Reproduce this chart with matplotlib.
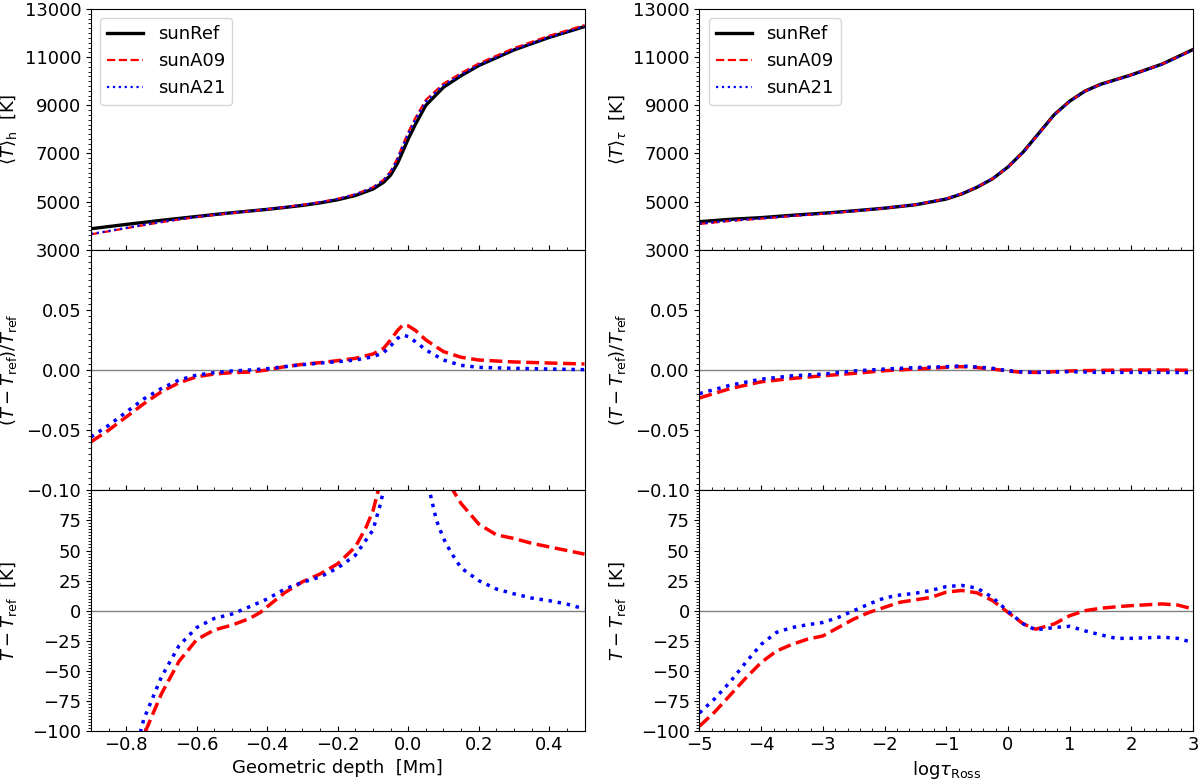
import numpy as np
import matplotlib
matplotlib.use("Agg")
import matplotlib.pyplot as plt
from matplotlib.ticker import AutoMinorLocator

plt.rcParams['font.size'] = 13

# ---- geometric depth panels (left column) ----
depth = [-0.9, -0.85, -0.8, -0.75, -0.7, -0.65, -0.6, -0.55, -0.5, -0.45,
         -0.4, -0.35, -0.3, -0.25, -0.2, -0.15, -0.1, -0.07, -0.05, -0.03,
         -0.015, 0.0, 0.02, 0.05, 0.1, 0.15, 0.2, 0.3, 0.4, 0.5]
Th_ref = [3870, 3960, 4050, 4135, 4220, 4300, 4380, 4460, 4535, 4605,
          4675, 4755, 4840, 4945, 5075, 5250, 5520, 5800, 6100, 6600,
          7100, 7600, 8200, 9000, 9750, 10230, 10650, 11300, 11820, 12270]
Th_A09 = [3639, 3762, 3892, 4019, 4144, 4254, 4355, 4445, 4525, 4597,
          4675, 4768, 4863, 4975, 5115, 5301, 5593, 5904, 6253, 6818,
          7366, 7879, 8471, 9225, 9899, 10338, 10738, 11376, 11889, 12331]
Th_A21 = [3655, 3778, 3908, 4036, 4155, 4264, 4362, 4450, 4531, 4605,
          4680, 4768, 4861, 4974, 5110, 5294, 5581, 5884, 6222, 6774,
          7306, 7811, 8394, 9150, 9831, 10270, 10673, 11316, 11829, 12274]
relh_A09 = [-0.0597, -0.050, -0.039, -0.028, -0.018, -0.0106, -0.0056, -0.0033, -0.0022, -0.0017,
            0.0, 0.0028, 0.0047, 0.0061, 0.0078, 0.0097, 0.0133, 0.018, 0.025, 0.033,
            0.0375, 0.0367, 0.033, 0.025, 0.0153, 0.0106, 0.0083, 0.0067, 0.0058, 0.005]
relh_A21 = [-0.0556, -0.046, -0.035, -0.024, -0.0153, -0.0083, -0.0042, -0.0022, -0.0008, 0.0,
            0.0011, 0.0028, 0.0044, 0.0058, 0.0069, 0.0083, 0.011, 0.0144, 0.02, 0.0264,
            0.029, 0.0278, 0.0236, 0.0167, 0.0083, 0.0039, 0.0022, 0.0014, 0.0008, 0.0003]

# absolute differences (K), read separately
dh_x_A09 = [-0.9, -0.8, -0.745, -0.7, -0.65, -0.6, -0.55, -0.5, -0.45, -0.42,
            -0.4, -0.35, -0.3, -0.25, -0.2, -0.15, -0.12, -0.1, -0.085, -0.06,
            -0.02, 0.0, 0.05, 0.1, 0.127, 0.15, 0.2, 0.25, 0.3, 0.35, 0.4, 0.45, 0.5]
dh_A09 = [-230, -160, -100, -69, -42, -24, -16, -12, -6.5, -1.5,
          3.3, 15, 24, 30.5, 39, 53, 69, 83, 100, 150,
          240, 240, 200, 125, 100, 89, 72, 63, 60, 56, 53, 50, 47]
dh_x_A21 = [-0.9, -0.8, -0.759, -0.75, -0.7, -0.65, -0.6, -0.55, -0.5, -0.45,
            -0.4, -0.35, -0.3, -0.25, -0.2, -0.15, -0.1, -0.08, -0.07, -0.05,
            -0.02, 0.02, 0.04, 0.06, 0.08, 0.1, 0.12, 0.15, 0.2, 0.25, 0.3, 0.35, 0.4, 0.45, 0.5]
dh_A21 = [-215, -140, -100, -90, -55, -29, -14, -6.4, -2.8, 3.3,
          9.7, 18, 23.6, 28, 35.5, 46, 67, 87.5, 100, 130,
          190, 180, 130, 100, 75, 60, 49, 35.5, 25, 18, 14, 10.5, 8.3, 5.5, 1.4]

# ---- optical depth panels (right column) ----
logtau = [-5, -4.5, -4, -3.5, -3, -2.5, -2, -1.5, -1, -0.75, -0.5, -0.25,
          0, 0.25, 0.5, 0.75, 1, 1.25, 1.5, 2, 2.5, 3]
Tt_ref = [4164, 4262, 4332, 4430, 4515, 4613, 4725, 4865, 5104, 5314, 5595, 5945,
          6436, 7067, 7839, 8610, 9171, 9592, 9872, 10265, 10714, 11317]
relt_A09 = [-0.0232, -0.0154, -0.0098, -0.007, -0.0048, -0.0028, -0.0006, 0.0008, 0.0022, 0.0028, 0.002, 0.0008,
            -0.0008, -0.002, -0.002, -0.0014, -0.0008, -0.0005, -0.0003, 0.0, 0.0, -0.0002]
relt_A21 = [-0.0196, -0.0126, -0.0076, -0.0048, -0.0034, -0.0008, 0.0008, 0.002, 0.0028, 0.0034, 0.0025, 0.0014,
            -0.0006, -0.0017, -0.002, -0.0017, -0.0014, -0.0017, -0.002, -0.002, -0.002, -0.0022]
Tt_A09 = [4067, 4196, 4290, 4399, 4493, 4600, 4722, 4869, 5115, 5329, 5606, 5950,
          6431, 7053, 7823, 8598, 9164, 9587, 9869, 10265, 10714, 11315]
Tt_A21 = [4082, 4208, 4299, 4409, 4500, 4609, 4729, 4875, 5118, 5332, 5609, 5953,
          6432, 7055, 7823, 8595, 9158, 9576, 9852, 10244, 10693, 11292]

dt_x = [-5, -4.75, -4.5, -4.25, -4, -3.75, -3.5, -3.25, -3, -2.75, -2.5, -2.25,
        -2, -1.75, -1.5, -1.25, -1, -0.75, -0.5, -0.25, 0, 0.25, 0.45, 0.75,
        1, 1.25, 1.5, 1.75, 2, 2.5, 2.75, 3]
dt_A09 = [-96, -84, -70, -56, -43, -33.5, -28, -23.7, -21, -14, -7, -1.4,
          2.8, 7, 9, 11, 15.4, 16.8, 14.8, 8.4, -1.4, -11, -15.4, -11,
          -4.2, 0, 2, 3.2, 4.2, 5.6, 4.7, 1.4]
dt_A21 = [-85, -73, -59, -43, -28, -18, -14, -11.7, -9.8, -5.6, 0, 5.6,
          10.6, 13, 14.5, 16.8, 20, 21, 18.7, 11, -0.6, -11, -16, -14,
          -13, -16.8, -20, -23, -23, -22, -23, -26.5]

fig, axs = plt.subplots(3, 2, figsize=(12, 7.84), dpi=100, sharex='col')
fig.subplots_adjust(left=0.0758, right=0.9942, top=0.9885, bottom=0.0676,
                    hspace=0, wspace=0.233)

lw_top = 1.6
lw_low = 2.5

# left column
ax = axs[0, 0]
ax.plot(depth, Th_ref, 'k-', lw=2.4, label='sunRef')
ax.plot(depth, Th_A09, 'r--', lw=lw_top, label='sunA09')
ax.plot(depth, Th_A21, 'b:', lw=lw_top, label='sunA21')
ax.set_ylim(3000, 13000)
ax.set_yticks([3000, 5000, 7000, 9000, 11000, 13000])
ax.set_ylabel(r'$\langle T\rangle_{\rm h}$  [K]')
ax.legend(loc='upper left', fontsize=13)

ax = axs[1, 0]
ax.axhline(0, color='gray', lw=1)
ax.plot(depth, relh_A09, 'r--', lw=lw_low)
ax.plot(depth, relh_A21, 'b:', lw=lw_low)
ax.set_ylim(-0.1, 0.1)
ax.set_yticks([-0.1, -0.05, 0.0, 0.05])
ax.set_yticklabels(['\u22120.10', '\u22120.05', '0.00', '0.05'])
ax.set_ylabel(r'$(T-T_{\rm ref})/T_{\rm ref}$')

ax = axs[2, 0]
ax.axhline(0, color='gray', lw=1)
ax.plot(dh_x_A09, dh_A09, 'r--', lw=lw_low)
ax.plot(dh_x_A21, dh_A21, 'b:', lw=lw_low)
ax.set_ylim(-100, 100)
ax.set_yticks([-100, -75, -50, -25, 0, 25, 50, 75])
ax.set_ylabel(r'$T-T_{\rm ref}$  [K]')
ax.set_xlim(-0.9, 0.5)
ax.set_xticks([-0.8, -0.6, -0.4, -0.2, 0.0, 0.2, 0.4])
ax.set_xlabel('Geometric depth  [Mm]')

# right column
ax = axs[0, 1]
ax.plot(logtau, Tt_ref, 'k-', lw=2.4, label='sunRef')
ax.plot(logtau, Tt_A09, 'r--', lw=lw_top, label='sunA09')
ax.plot(logtau, Tt_A21, 'b:', lw=lw_top, label='sunA21')
ax.set_ylim(3000, 13000)
ax.set_yticks([3000, 5000, 7000, 9000, 11000, 13000])
ax.set_ylabel(r'$\langle T\rangle_{\tau}$  [K]')
ax.legend(loc='upper left', fontsize=13)

ax = axs[1, 1]
ax.axhline(0, color='gray', lw=1)
ax.plot(logtau, relt_A09, 'r--', lw=lw_low)
ax.plot(logtau, relt_A21, 'b:', lw=lw_low)
ax.set_ylim(-0.1, 0.1)
ax.set_yticks([-0.1, -0.05, 0.0, 0.05])
ax.set_yticklabels(['\u22120.10', '\u22120.05', '0.00', '0.05'])
ax.set_ylabel(r'$(T-T_{\rm ref})/T_{\rm ref}$')

ax = axs[2, 1]
ax.axhline(0, color='gray', lw=1)
ax.plot(dt_x, dt_A09, 'r--', lw=lw_low)
ax.plot(dt_x, dt_A21, 'b:', lw=lw_low)
ax.set_ylim(-100, 100)
ax.set_yticks([-100, -75, -50, -25, 0, 25, 50, 75])
ax.set_ylabel(r'$T-T_{\rm ref}$  [K]')
ax.set_xlim(-5, 3)
ax.set_xticks([-5, -4, -3, -2, -1, 0, 1, 2, 3])
ax.set_xlabel(r'$\mathrm{log}\tau_{\rm Ross}$')

for col, nx in ((0, 4), (1, 5)):
    for row in range(3):
        a = axs[row, col]
        a.xaxis.set_minor_locator(AutoMinorLocator(nx))
        a.yaxis.set_minor_locator(AutoMinorLocator(10))
        a.tick_params(axis='x', which='both', direction='in')
        a.tick_params(axis='both', which='major', labelsize=13)

fig.align_ylabels(axs[:, 0])
fig.align_ylabels(axs[:, 1])

fig.savefig('out.png', dpi=100)
